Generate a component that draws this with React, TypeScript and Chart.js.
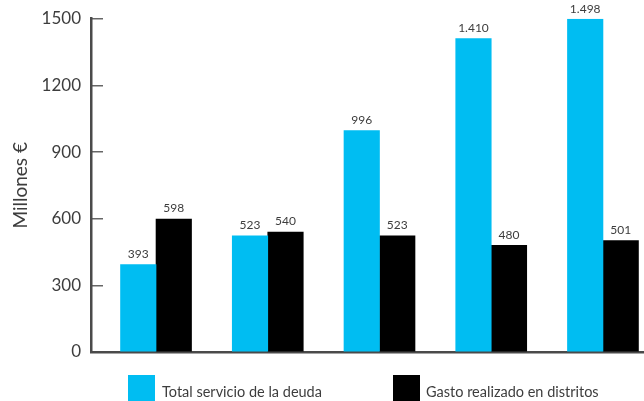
import React, { useEffect, useRef } from "react";
import { Chart, registerables } from "chart.js";

Chart.register(...registerables);

// ---- data ----
const categories = ["1", "2", "3", "4", "5"];
const seriesNames = ["Total servicio de la deuda", "Gasto realizado en distritos"];
const deudaValues = [393, 523, 996, 1410, 1498];
const distritosValues = [598, 540, 523, 480, 501];
const yTicks = [0, 300, 600, 900, 1200, 1500];
const yTitle = "Millones €";

// ---- style ----
const CYAN = "#00BDF2";
const BLACK = "#000000";
const TEXT = "#3d3d3d";
const AXIS = "#4a4a4a";
const FONT = "Lato, 'Open Sans', sans-serif";

const fmt = (v: number) => String(v).replace(/\B(?=(\d{3})+(?!\d))/g, ".");

const valueLabels = {
  id: "valueLabels",
  afterDatasetsDraw(chart: any) {
    const ctx = chart.ctx;
    ctx.save();
    ctx.font = `12px ${FONT}`;
    ctx.fillStyle = TEXT;
    ctx.textAlign = "center";
    ctx.textBaseline = "middle";
    chart.data.datasets.forEach((ds: any, di: number) => {
      const meta = chart.getDatasetMeta(di);
      meta.data.forEach((el: any, i: number) => {
        ctx.fillText(fmt(ds.data[i].y), el.x, el.y - 10.5);
      });
    });
    ctx.restore();
  },
};

export default function App() {
  const ref = useRef<HTMLCanvasElement>(null);

  useEffect(() => {
    let chart: Chart | null = null;
    let cancelled = false;
    const make = () => {
      if (cancelled || !ref.current) return;
      chart = new Chart(ref.current, {
        type: "bar",
        data: {
          datasets: [
            {
              label: seriesNames[0],
              data: categories.map((_, i) => ({ x: i, y: deudaValues[i] })),
              backgroundColor: CYAN,
              borderWidth: 0,
            },
            {
              label: seriesNames[1],
              data: categories.map((_, i) => ({ x: i, y: distritosValues[i] })),
              backgroundColor: BLACK,
              borderWidth: 0,
            },
          ],
        },
        options: {
          responsive: false,
          animation: false,
          events: [],
          layout: { padding: { top: 18.7, bottom: 41, left: 0, right: 0 } },
          datasets: { bar: { barThickness: 35.5 } },
          plugins: {
            legend: { display: false },
            tooltip: { enabled: false },
          },
          scales: {
            x: {
              type: "linear",
              min: -0.582,
              max: 4.6,
              offset: false,
              ticks: { display: false, includeBounds: false, stepSize: 1 },
              grid: { display: false },
              border: { display: true, color: AXIS, width: 2.5 },
            },
            y: {
              min: 0,
              max: 1500,
              afterBuildTicks: (scale: any) => {
                scale.ticks = yTicks.map((v) => ({ value: v }));
              },
              afterFit: (scale: any) => {
                scale.width = 91;
                scale.paddingTop = 0;
                scale.paddingBottom = 0;
              },
              ticks: {
                padding: 22,
                color: TEXT,
                font: { family: FONT, size: 17 },
                callback: (v: any) => String(v),
              },
              grid: {
                display: true,
                drawOnChartArea: false,
                drawTicks: true,
                tickLength: -12,
                color: "#666666",
                lineWidth: 1.5,
              },
              border: { display: true, color: AXIS, width: 2.5 },
              title: {
                display: true,
                text: yTitle,
                color: TEXT,
                font: { family: FONT, size: 19 },
                padding: { top: 9, bottom: 0 },
              },
            },
          },
        },
        plugins: [valueLabels],
      } as any);
    };
    const fonts = (document as any).fonts;
    if (fonts && fonts.load) {
      Promise.all([fonts.load(`17px Lato`), fonts.load(`12px Lato`)]).then(make, make);
    } else {
      make();
    }
    return () => {
      cancelled = true;
      if (chart) chart.destroy();
    };
  }, []);

  const legend = [
    { text: seriesNames[0], color: CYAN, boxLeft: 128, textLeft: 162 },
    { text: seriesNames[1], color: BLACK, boxLeft: 393, textLeft: 426 },
  ];

  return (
    <div
      style={{
        position: "absolute",
        left: 0,
        top: 0,
        width: 644,
        height: 401,
        overflow: "hidden",
        background: "#ffffff",
      }}
    >
      <canvas ref={ref} width={670} height={401} style={{ display: "block", width: 670, height: 401 }} />
      {legend.map((l) => (
        <React.Fragment key={l.text}>
          <div
            style={{
              position: "absolute",
              left: l.boxLeft,
              top: 375,
              width: 27,
              height: 27,
              background: l.color,
            }}
          />
          <span
            style={{
              position: "absolute",
              left: l.textLeft,
              top: 383,
              fontFamily: FONT,
              fontSize: 14.5,
              lineHeight: "18px",
              color: TEXT,
              whiteSpace: "nowrap",
            }}
          >
            {l.text}
          </span>
        </React.Fragment>
      ))}
    </div>
  );
}
